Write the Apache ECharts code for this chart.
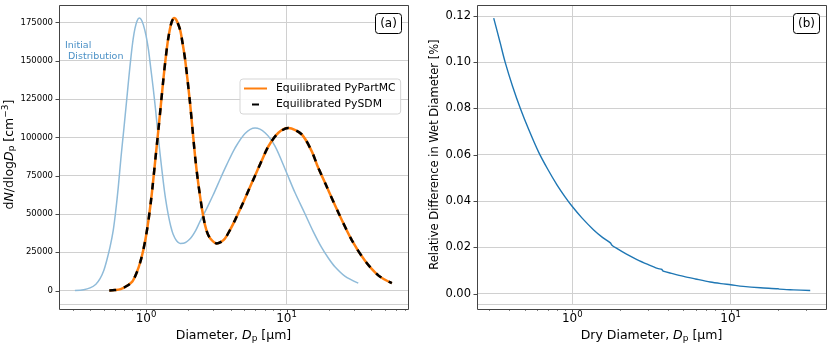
<!DOCTYPE html>
<html>
<head>
<meta charset="utf-8">
<script src="https://cdn.jsdelivr.net/npm/echarts@6/dist/echarts.min.js"></script>
<style>
html, body { margin: 0; padding: 0; background: #fff; }
#chart { width: 831px; height: 348px; }
</style>
</head>
<body>
<div id="chart"></div>
<script>
// panel (a): initial size distribution (diameter in um, dN/dlogDp in cm^-3)
const initDiam = [0.312, 0.36, 0.40, 0.44, 0.471, 0.50, 0.525, 0.555, 0.585, 0.61,
  0.635, 0.664, 0.695, 0.729, 0.755, 0.782, 0.81, 0.835, 0.865, 0.896,
  0.925, 0.957, 1.0, 1.04, 1.08, 1.127, 1.17, 1.21, 1.26, 1.33,
  1.38, 1.44, 1.50, 1.56, 1.65, 1.75, 1.85, 2.06, 2.25, 2.42, 2.75,
  3.01, 3.40, 3.75, 4.30, 5.07, 5.97, 7.03, 8.28, 10.0, 11.5,
  13.5, 15.5, 17.8, 20.0, 22.1, 26.0, 32.4]
const initConc = [100, 600, 1800, 4200, 7800, 13000, 19500, 28500, 39500, 52500,
  67500, 87000, 105000, 124500, 139000, 152500, 164000, 171000, 176000, 177800,
  176800, 173500, 166500, 157500, 145500, 131500, 118000, 104500, 89000, 70500,
  59500, 49500, 42000, 36800, 32500, 30800, 30900, 33800, 39000, 45000, 55000,
  62500, 73500, 82000, 93000, 102500, 106000, 103000, 94300, 77000, 63800,
  50300, 38500, 28000, 20800, 15600, 9500, 4900]

// equilibrated (PyPartMC); PySDM lies on top of it in the figure
const eqDiam = [0.548, 0.60, 0.66, 0.729, 0.80, 0.859, 0.91, 0.957, 1.0, 1.04,
  1.08, 1.117, 1.17, 1.24, 1.33, 1.38, 1.44, 1.52, 1.59, 1.65,
  1.75, 1.82, 1.90, 2.06, 2.23, 2.36, 2.56, 2.70, 2.86, 3.19, 3.40,
  3.65, 4.00, 4.30, 4.92, 5.40, 5.97, 6.64, 7.42, 8.72, 10.3, 12.8, 15.1,
  16.5, 18.9, 23.5, 29.2, 36.3, 45.2, 56.2]
const pmcConc = [100, 350, 1000, 3000, 6000, 11800, 18500, 26500, 35500, 45500,
  57000, 69000, 87000, 109500, 138000, 151500, 164500, 175000, 177800, 176300,
  170000, 161500, 150500, 122000, 88500, 69300, 48000, 39000, 34200, 30800, 31600,
  34000, 40300, 46000, 57500, 66000, 75000, 84500, 94000, 102800, 106000, 102000, 91000,
  82000, 69800, 50500, 32800, 19300, 9800, 4900]
const sdmConc = pmcConc.slice()

// panel (b): relative difference in wet diameter [%] vs dry diameter
const dryDiam = [0.319, 0.35, 0.377, 0.42, 0.47, 0.53, 0.614, 0.70, 0.80, 0.90,
  1.0, 1.15, 1.365, 1.55, 1.74, 1.78, 1.91, 2.2, 2.56, 3.0,
  3.45, 3.68, 3.75, 4.3, 5.05, 6.0, 7.43, 8.7, 10.0, 12.0,
  15.4, 19.9, 20.3, 25.0, 31.8]
const relDiff = [0.1190, 0.1085, 0.0999, 0.0895, 0.0800, 0.0710, 0.0610, 0.0537, 0.0470, 0.0418,
  0.0376, 0.0327, 0.0275, 0.0243, 0.0219, 0.0209, 0.0195, 0.0170, 0.0147, 0.0126,
  0.0109, 0.0104, 0.0097, 0.0086, 0.0074, 0.0063, 0.0050, 0.0043, 0.0038, 0.0031,
  0.0025, 0.0021, 0.0019, 0.0016, 0.0013]

// tick positions
const leftYTicks = [0, 25000, 50000, 75000, 100000, 125000, 150000, 175000]
const rightYTicks = [0, 0.02, 0.04, 0.06, 0.08, 0.10, 0.12]
const majorX = [1, 10]
const leftMinorX = [0.3, 0.4, 0.5, 0.6, 0.7, 0.8, 0.9, 2, 3, 4, 5, 6, 7, 8, 9, 20, 30, 40, 50, 60, 70]
const rightMinorX = [0.3, 0.4, 0.5, 0.6, 0.7, 0.8, 0.9, 2, 3, 4, 5, 6, 7, 8, 9, 20, 30]

const FONT = 'DejaVu Sans'
const boxA = { left: 59, top: 5, width: 349, height: 304 }
const boxB = { left: 477, top: 5, width: 349, height: 304 }

const pairs = (xs, ys) => xs.map((x, i) => [x, ys[i]])

function powLabel(v) {
  const lg = Math.log10(v)
  const e = Math.round(lg)
  if (Math.abs(lg - e) > 1e-6) return ''
  return '{b|10}{sup|' + e + '}'
}
const powRich = {
  b: { fontSize: 12, fontFamily: FONT, color: '#000' },
  sup: { fontSize: 8.5, fontFamily: FONT, color: '#000', padding: [0, 0, 8, 0] }
}
const nameRich = {
  n: { fontSize: 12.5, fontFamily: FONT, color: '#000' },
  i: { fontSize: 12.5, fontFamily: FONT, color: '#000', fontStyle: 'italic' },
  s: { fontSize: 9, fontFamily: FONT, color: '#000', padding: [5, 0, 0, 0] },
  u: { fontSize: 9, fontFamily: FONT, color: '#000', padding: [0, 0, 7, 0] }
}
const gridLine = { show: true, lineStyle: { color: '#d0d0d0', width: 1 } }

function xAxisOf(idx, min, max, name) {
  return {
    type: 'log', logBase: 10, gridIndex: idx, min: min, max: max,
    name: name, nameLocation: 'middle', nameGap: 16,
    nameTextStyle: { rich: nameRich },
    axisLine: { show: false }, axisTick: { show: false },
    splitLine: gridLine, minorSplitLine: { show: false },
    axisLabel: {
      show: true, showMinLabel: false, showMaxLabel: false, margin: 6,
      formatter: powLabel, rich: powRich
    }
  }
}

const chart = echarts.init(document.getElementById('chart'))
const option = {
  animation: false,
  textStyle: { fontFamily: FONT },
  grid: [
    Object.assign({}, boxA, { show: false }),
    Object.assign({}, boxB, { show: false })
  ],
  xAxis: [
    xAxisOf(0, 0.2404, 73.2, '{n|Diameter, }{i|D}{s|p}{n| [µm]}'),
    xAxisOf(1, 0.2502, 40.0, '{n|Dry Diameter, }{i|D}{s|p}{n| [µm]}')
  ],
  yAxis: [
    {
      type: 'value', gridIndex: 0, min: -8790, max: 186300,
      minInterval: 25000, maxInterval: 25000,
      name: '{n|d}{i|N}{n|/dlog}{i|D}{s|p}{n| [cm}{u|−3}{n|]}',
      nameLocation: 'middle', nameRotate: 90, nameGap: 37,
      nameTextStyle: { rich: nameRich },
      axisLine: { show: false }, axisTick: { show: false },
      splitLine: gridLine,
      axisLabel: {
        showMinLabel: false, showMaxLabel: false, margin: 6,
        fontSize: 8.5, color: '#000', fontFamily: FONT,
        formatter: v => String(v)
      }
    },
    {
      type: 'value', gridIndex: 1, min: -0.00455, max: 0.12468,
      minInterval: 0.02, maxInterval: 0.02,
      name: 'Relative Difference in Wet Diameter [%]',
      nameLocation: 'middle', nameRotate: 90, nameGap: 36,
      nameTextStyle: { fontSize: 11.5, color: '#000', fontFamily: FONT },
      axisLine: { show: false }, axisTick: { show: false },
      splitLine: gridLine,
      axisLabel: {
        showMinLabel: false, showMaxLabel: false, margin: 6,
        fontSize: 11.5, color: '#000', fontFamily: FONT,
        formatter: v => v.toFixed(2)
      }
    }
  ],
  legend: {
    orient: 'vertical', left: 240, top: 79,
    data: [
      { name: 'Equilibrated PyPartMC' },
      { name: 'Equilibrated PySDM', lineStyle: { type: [0, 8, 7, 8] } }
    ],
    itemStyle: { opacity: 0 },
    itemWidth: 23, itemHeight: 10, itemGap: 5,
    padding: [4, 5, 4, 3],
    borderColor: '#d5d5d5', borderWidth: 1, borderRadius: 3,
    backgroundColor: 'rgba(255,255,255,0.85)',
    textStyle: { fontSize: 10.8, color: '#000', fontFamily: FONT, padding: [0, 0, 0, 4] }
  },
  series: [
    {
      name: 'Initial Distribution', type: 'line', xAxisIndex: 0, yAxisIndex: 0,
      data: pairs(initDiam, initConc), smooth: 0.3, symbol: 'none',
      lineStyle: { color: '#8fbbd9', width: 1.5 }, itemStyle: { color: '#8fbbd9' }
    },
    {
      name: 'Equilibrated PyPartMC', type: 'line', xAxisIndex: 0, yAxisIndex: 0,
      data: pairs(eqDiam, pmcConc), smooth: 0.3, symbol: 'none',
      lineStyle: { color: '#ff7f0e', width: 2.5 }, itemStyle: { color: '#ff7f0e' }
    },
    {
      name: 'Equilibrated PySDM', type: 'line', xAxisIndex: 0, yAxisIndex: 0,
      data: pairs(eqDiam, sdmConc), smooth: 0.3, symbol: 'none',
      lineStyle: { color: '#000', width: 2.5, type: [7, 8] }, itemStyle: { color: '#000' }
    },
    {
      name: 'Relative Difference', type: 'line', xAxisIndex: 1, yAxisIndex: 1,
      data: pairs(dryDiam, relDiff), smooth: 0.3, symbol: 'none',
      lineStyle: { color: '#1f77b4', width: 1.4 }, itemStyle: { color: '#1f77b4' }
    }
  ]
}
chart.setOption(option)

// spines, ticks, panel tags and the text note
function panelGraphic(idx, box, minorX, yTicks, tag) {
  const out = []
  const bottom = box.top + box.height
  const stroke = { stroke: '#333', lineWidth: 0.9 }
  const px = v => chart.convertToPixel({ xAxisIndex: idx }, v)
  const py = v => chart.convertToPixel({ yAxisIndex: idx }, v)
  majorX.forEach(v => {
    const x = Math.round(px(v)) + 0.5
    out.push({ type: 'line', silent: true, z: 100, shape: { x1: x, y1: bottom, x2: x, y2: bottom + 3.5 }, style: stroke })
  })
  minorX.forEach(v => {
    const x = Math.round(px(v)) + 0.5
    out.push({ type: 'line', silent: true, z: 100, shape: { x1: x, y1: bottom, x2: x, y2: bottom + 2 }, style: { stroke: '#333', lineWidth: 0.6 } })
  })
  yTicks.forEach(v => {
    const y = Math.round(py(v)) + 0.5
    out.push({ type: 'line', silent: true, z: 100, shape: { x1: box.left - 3.5, y1: y, x2: box.left, y2: y }, style: stroke })
  })
  out.push({
    type: 'rect', silent: true, z: 100,
    shape: { x: box.left + 0.5, y: box.top + 0.5, width: box.width, height: box.height },
    style: { fill: null, stroke: '#444', lineWidth: 1 }
  })
  const tx = box.left + box.width - 33
  out.push({
    type: 'rect', silent: true, z: 101,
    shape: { x: tx + 0.5, y: 13.5, width: 26, height: 20, r: 3 },
    style: { fill: '#fff', stroke: '#000', lineWidth: 1 }
  })
  out.push({
    type: 'text', silent: true, z: 102,
    style: { x: tx + 13.5, y: 24, text: tag, align: 'center', verticalAlign: 'middle', font: '12px "DejaVu Sans"', fill: '#000' }
  })
  return out
}

const graphics = []
  .concat(panelGraphic(0, boxA, leftMinorX, leftYTicks, '(a)'))
  .concat(panelGraphic(1, boxB, rightMinorX, rightYTicks, '(b)'))
graphics.push({
  type: 'text', silent: true, z: 50,
  style: { x: 65, y: 40, text: 'Initial\n Distribution', font: '9.5px "DejaVu Sans"', fill: '#4a90c6', lineHeight: 11 }
})
chart.setOption({ graphic: graphics })
</script>
</body>
</html>
